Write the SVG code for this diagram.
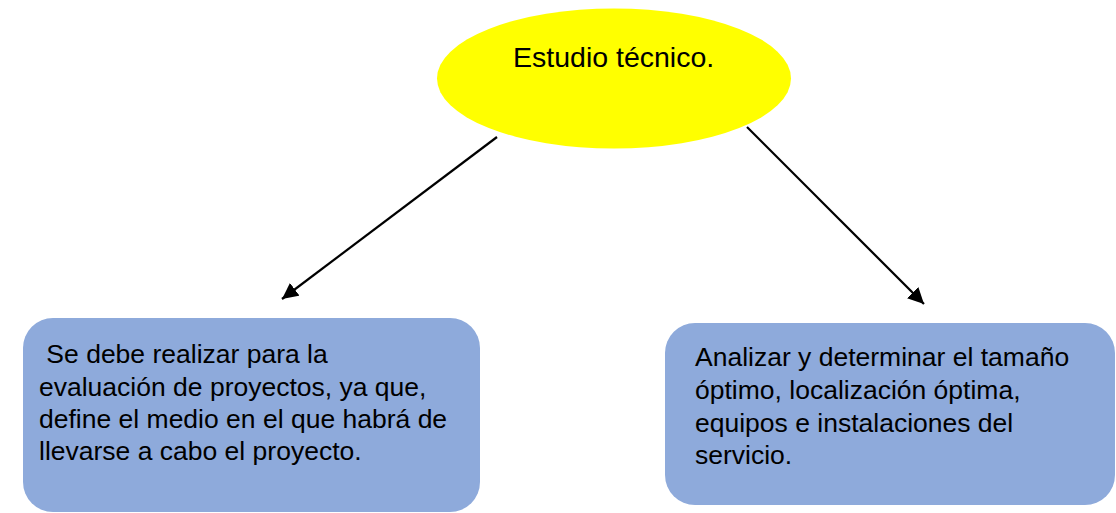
<svg xmlns="http://www.w3.org/2000/svg" width="1116" height="513" viewBox="0 0 1116 513">
<defs>
<style>
.t{font-family:"Liberation Sans",Arial,sans-serif;font-size:26.5px;fill:#000;white-space:pre}
.title{font-size:28.5px}
.box{fill:#8EAADB}
.con{stroke:#000;stroke-width:2.2;fill:none}
</style>
<marker id="ah" markerUnits="userSpaceOnUse" markerWidth="18" markerHeight="16" refX="16" refY="8" orient="auto">
<path d="M0,0 L16,8 L0,16 Z" fill="#000"/>
</marker>
</defs>
<rect width="1116" height="513" fill="#fff"/>
<g id="node-estudio">
<ellipse cx="614" cy="78.5" rx="177" ry="70" fill="#FFFF00"/>
<text class="t title" x="513" y="67">Estudio técnico.</text>
</g>
<g id="node-left">
<rect class="box" x="23" y="318" width="457" height="194" rx="30" ry="30"/>
<text class="t" x="39" y="363" xml:space="preserve"> Se debe realizar para la</text>
<text class="t" x="39" y="396">evaluación de proyectos, ya que,</text>
<text class="t" x="39" y="428">define el medio en el que habrá de</text>
<text class="t" x="39" y="460">llevarse a cabo el proyecto.</text>
</g>
<g id="node-right">
<rect class="box" x="665" y="323" width="450" height="182" rx="30" ry="30"/>
<text class="t" x="695" y="366">Analizar y determinar el tamaño</text>
<text class="t" x="695" y="399">óptimo, localización óptima,</text>
<text class="t" x="695" y="432">equipos e instalaciones del</text>
<text class="t" x="695" y="464">servicio.</text>
</g>
<g id="connectors">
<line class="con" x1="497" y1="137" x2="282" y2="299" marker-end="url(#ah)"/>
<line class="con" x1="747" y1="127" x2="924" y2="304" marker-end="url(#ah)"/>
</g>
</svg>
